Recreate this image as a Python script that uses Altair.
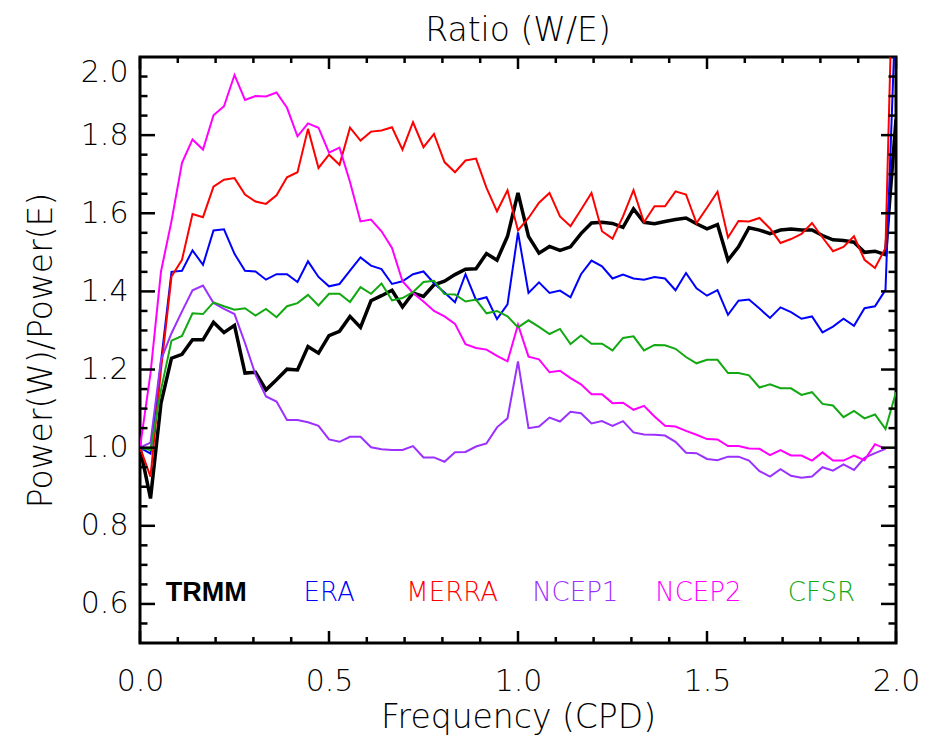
import altair as alt
import pandas as pd

# ---------------- data ----------------
freq = [round(k / 36, 5) for k in range(73)]

trmm = [1.0, 0.87, 1.114, 1.229, 1.239, 1.276, 1.276, 1.321, 1.295, 1.313,
        1.191, 1.193, 1.148, 1.174, 1.201, 1.199, 1.259, 1.242, 1.287, 1.298,
        1.336, 1.308, 1.376, 1.389, 1.403, 1.36, 1.396, 1.387, 1.417, 1.426,
        1.443, 1.457, 1.458, 1.497, 1.48, 1.541, 1.652, 1.541, 1.498, 1.515,
        1.505, 1.514, 1.548, 1.575, 1.577, 1.574, 1.564, 1.611, 1.577, 1.573,
        1.579, 1.584, 1.588, 1.573, 1.56, 1.571, 1.48, 1.514, 1.563, 1.557,
        1.548, 1.557, 1.56, 1.557, 1.557, 1.543, 1.532, 1.53, 1.526, 1.5,
        1.503, 1.494, 1.84]

era = [1.0, 0.985, 1.22, 1.45, 1.453, 1.505, 1.468, 1.556, 1.559, 1.496,
       1.453, 1.451, 1.43, 1.444, 1.444, 1.424, 1.477, 1.437, 1.413, 1.419,
       1.453, 1.487, 1.466, 1.457, 1.419, 1.426, 1.444, 1.451, 1.421, 1.397,
       1.372, 1.444, 1.378, 1.385, 1.329, 1.367, 1.551, 1.396, 1.423, 1.396,
       1.402, 1.385, 1.444, 1.479, 1.464, 1.433, 1.443, 1.433, 1.43, 1.437,
       1.433, 1.403, 1.447, 1.408, 1.389, 1.403, 1.34, 1.376, 1.379, 1.356,
       1.332, 1.359, 1.347, 1.33, 1.336, 1.295, 1.31, 1.33, 1.312, 1.357,
       1.362, 1.404, 2.15]

merra = [1.0, 0.926, 1.2, 1.438, 1.481, 1.598, 1.59, 1.668, 1.686, 1.69,
         1.648, 1.63, 1.624, 1.646, 1.692, 1.705, 1.816, 1.716, 1.75, 1.724,
         1.819, 1.786, 1.809, 1.812, 1.82, 1.763, 1.833, 1.769, 1.803, 1.731,
         1.705, 1.735, 1.74, 1.665, 1.605, 1.659, 1.556, 1.588, 1.627, 1.652,
         1.592, 1.567, 1.609, 1.652, 1.554, 1.535, 1.592, 1.659, 1.577, 1.618,
         1.618, 1.656, 1.648, 1.575, 1.614, 1.655, 1.538, 1.58, 1.579, 1.588,
         1.561, 1.524, 1.534, 1.547, 1.575, 1.538, 1.503, 1.514, 1.541, 1.481,
         1.46, 1.511, 2.55]

ncep1 = [1.0, 1.013, 1.225, 1.293, 1.349, 1.403, 1.415, 1.37, 1.355, 1.342,
         1.268, 1.187, 1.131, 1.118, 1.071, 1.071, 1.065, 1.056, 1.021, 1.015,
         1.028, 1.028, 1.001, 0.996, 0.994, 0.994, 1.004, 0.975, 0.975, 0.964,
         0.988, 0.989, 1.003, 1.011, 1.052, 1.075, 1.221, 1.05, 1.054, 1.077,
         1.067, 1.092, 1.088, 1.062, 1.068, 1.056, 1.068, 1.039, 1.034, 1.033,
         1.031, 1.015, 0.987, 0.986, 0.971, 0.968, 0.977, 0.977, 0.967, 0.94,
         0.926, 0.945, 0.928, 0.923, 0.926, 0.95, 0.941, 0.957, 0.943, 0.974,
         0.986, 0.997]

ncep2 = [1.0, 1.19, 1.451, 1.58, 1.729, 1.789, 1.763, 1.851, 1.874, 1.954,
         1.89, 1.9, 1.899, 1.909, 1.87, 1.797, 1.83, 1.819, 1.755, 1.768,
         1.68, 1.579, 1.584, 1.554, 1.511, 1.426, 1.396, 1.374, 1.35, 1.336,
         1.317, 1.265, 1.255, 1.251, 1.235, 1.221, 1.315, 1.233, 1.226, 1.193,
         1.197, 1.178, 1.162, 1.137, 1.137, 1.114, 1.115, 1.097, 1.107, 1.08,
         1.056, 1.054, 1.043, 1.033, 1.022, 1.021, 1.004, 1.004, 0.998, 0.997,
         0.981, 0.994, 0.98, 0.98, 0.967, 0.988, 0.967, 0.967, 0.98, 0.968,
         1.009, 0.997]

cfsr = [1.0, 0.994, 1.148, 1.274, 1.286, 1.344, 1.342, 1.372, 1.362, 1.353,
        1.357, 1.338, 1.355, 1.334, 1.362, 1.37, 1.391, 1.364, 1.394, 1.394,
        1.373, 1.411, 1.394, 1.42, 1.377, 1.383, 1.398, 1.424, 1.427, 1.393,
        1.392, 1.374, 1.379, 1.344, 1.35, 1.336, 1.308, 1.326, 1.309, 1.291,
        1.304, 1.265, 1.287, 1.266, 1.266, 1.249, 1.281, 1.285, 1.249, 1.263,
        1.262, 1.253, 1.232, 1.216, 1.225, 1.225, 1.191, 1.191, 1.185, 1.154,
        1.162, 1.152, 1.152, 1.135, 1.142, 1.112, 1.108, 1.078, 1.094, 1.075,
        1.085, 1.048, 1.142]

series_names = ["TRMM", "ERA", "MERRA", "NCEP1", "NCEP2", "CFSR"]
series_colors = ["#000000", "#0000ff", "#ff0000", "#9b30ff", "#ff00ff", "#12a812"]

x_label_values = [0.0, 0.5, 1.0, 1.5, 2.0]
x_minor_ticks = [0.1, 0.2, 0.3, 0.4, 0.6, 0.7, 0.8, 0.9, 1.1, 1.2, 1.3, 1.4,
                 1.6, 1.7, 1.8, 1.9]
y_label_values = [0.6, 0.8, 1.0, 1.2, 1.4, 1.6, 1.8, 2.0]
y_major_ticks = [0.6, 0.8, 1.0, 1.2, 1.4, 1.6, 1.8]
y_minor_ticks = [0.55, 0.65, 0.7, 0.75, 0.85, 0.9, 0.95, 1.05, 1.1, 1.15,
                 1.25, 1.3, 1.35, 1.45, 1.5, 1.55, 1.65, 1.7, 1.75, 1.85,
                 1.9, 1.95]

# ---------------- tables ----------------
rows = []
for name, vals in zip(series_names, [trmm, era, merra, ncep1, ncep2, cfsr]):
    for f, v in zip(freq, vals):
        rows.append({"series": name, "freq": f, "ratio": v})
df = pd.DataFrame(rows)

lab_df = pd.DataFrame({"series": series_names, "idx": list(range(len(series_names)))})

W, H = 756, 586
FONT = "DejaVu Sans"
FW = 200

X = alt.X("freq:Q",
          scale=alt.Scale(domain=[0, 2], nice=False, zero=False),
          axis=alt.Axis(values=x_label_values, format=".1f", ticks=False, domain=False,
                        grid=False, labelFlush=False, labelPadding=23, labelFontSize=30,
                        labelFont=FONT, labelFontWeight=FW, labelColor="black",
                        title="Frequency (CPD)", titleFont=FONT, titleFontSize=33,
                        titleFontWeight=FW, titleColor="black", titlePadding=5))
Y = alt.Y("ratio:Q",
          scale=alt.Scale(domain=[0.5, 2.0], nice=False, zero=False),
          axis=alt.Axis(values=y_label_values, format=".1f", ticks=False, domain=False,
                        grid=False, labelFlush=True, labelPadding=12, labelFontSize=30,
                        labelFont=FONT, labelFontWeight=FW, labelColor="black",
                        title="Power(W)/Power(E)", titleFont=FONT, titleFontSize=33,
                        titleFontWeight=FW, titleColor="black", titlePadding=22))
C = alt.Color("series:N", scale=alt.Scale(domain=series_names, range=series_colors),
              legend=None)

base = alt.Chart(df)
trmm_line = base.transform_filter(alt.datum.series == "TRMM").mark_line(
    strokeWidth=3.5, clip=True).encode(x=X, y=Y, color=C)
other_lines = base.transform_filter(alt.datum.series != "TRMM").mark_line(
    strokeWidth=2, clip=True).encode(x=X, y=Y, color=C)

labels_base = alt.Chart(lab_df).transform_calculate(freq="0.175 + 0.3255 * datum.idx")
lab_bold = labels_base.transform_filter(alt.datum.series == "TRMM").mark_text(
    font="Liberation Sans", fontSize=27, fontWeight="bold", align="center",
    baseline="middle").encode(x=X, y=alt.value(536), text="series:N", color=C)
lab_norm = labels_base.transform_filter(alt.datum.series != "TRMM").mark_text(
    font=FONT, fontSize=26, fontWeight=FW, align="center", baseline="middle").encode(
    x=X, y=alt.value(536), text="series:N", color=C)

def xticks(values, length):
    d = pd.DataFrame({"freq": values})
    bot = alt.Chart(d).mark_rule(color="black", strokeWidth=2.5).encode(
        x=X, y=alt.value(H), y2=alt.value(H - length))
    top = alt.Chart(d).mark_rule(color="black", strokeWidth=2.5).encode(
        x=X, y=alt.value(0), y2=alt.value(length))
    return [bot, top]

def yticks(values, length):
    d = pd.DataFrame({"ratio": values})
    left = alt.Chart(d).mark_rule(color="black", strokeWidth=2.5).encode(
        y=Y, x=alt.value(0), x2=alt.value(length))
    right = alt.Chart(d).mark_rule(color="black", strokeWidth=2.5).encode(
        y=Y, x=alt.value(W), x2=alt.value(W - length))
    return [left, right]

layers = [trmm_line, other_lines, lab_bold, lab_norm]
layers += xticks(x_label_values, 12) + xticks(x_minor_ticks, 6)
layers += yticks(y_major_ticks, 15) + yticks(y_minor_ticks, 7.5)

chart = alt.layer(*layers).properties(
    width=W, height=H,
    background="white",
    title=alt.TitleParams("Ratio (W/E)", font=FONT, fontSize=33, fontWeight=FW,
                          color="black", anchor="middle", offset=8),
    padding={"left": 140, "top": 57, "right": 31, "bottom": 106},
    autosize=alt.AutoSizeParams(type="none"),
).configure_view(stroke="black", strokeWidth=3)

chart.save("out.html", embed_options={"renderer": "svg", "actions": False})
